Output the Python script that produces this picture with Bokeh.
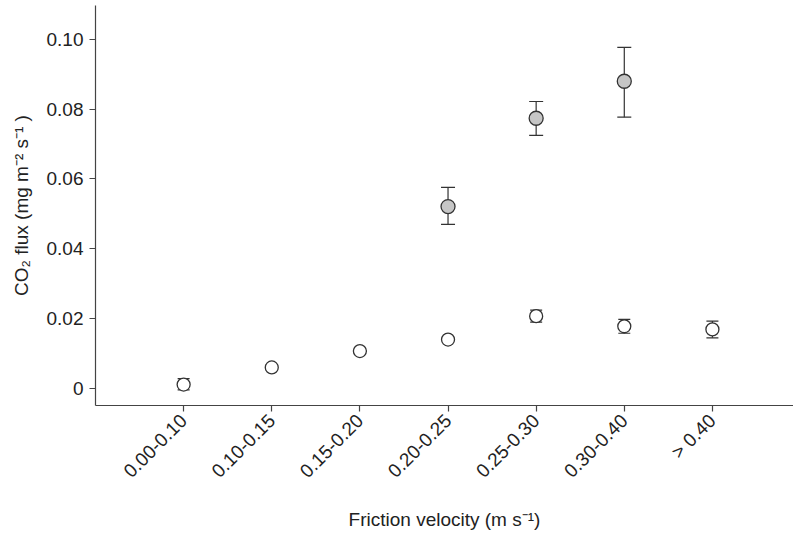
import math
from bokeh.plotting import figure
from bokeh.models import ColumnDataSource, Whisker, TeeHead, FixedTicker, Range1d
from bokeh.embed import file_html
from bokeh.resources import INLINE

categories = ["0.00-0.10", "0.10-0.15", "0.15-0.20", "0.20-0.25", "0.25-0.30", "0.30-0.40", "> 0.40"]

# open circles (all classes)
open_mean = [0.0011, 0.0060, 0.0107, 0.0140, 0.0207, 0.0178, 0.0169]
open_lo = [-0.0004, 0.0053, 0.0101, 0.0133, 0.0190, 0.0158, 0.0145]
open_hi = [0.0028, 0.0067, 0.0112, 0.0147, 0.0224, 0.0198, 0.0193]

# grey circles (classes 0.20-0.25, 0.25-0.30, 0.30-0.40)
grey_idx = [3, 4, 5]
grey_mean = [0.0521, 0.0774, 0.0880]
grey_lo = [0.0470, 0.0725, 0.0777]
grey_hi = [0.0576, 0.0822, 0.0977]

y_ticks = [0, 0.02, 0.04, 0.06, 0.08, 0.10]
y_tick_labels = ["0", "0.02", "0.04", "0.06", "0.08", "0.10"]

FONT = "Liberation Sans"
TXT = "#222222"
AX = "#444444"

p = figure(width=793, height=537, output_backend="svg", toolbar_location=None,
           x_range=Range1d(0, 7.92), y_range=Range1d(-0.0049, 0.1097),
           min_border_left=95, min_border_right=0, min_border_top=5, min_border_bottom=132)
p.outline_line_color = None
p.xgrid.visible = False
p.ygrid.visible = False

xs_open = list(range(1, len(categories) + 1))
src_open = ColumnDataSource(dict(x=xs_open, y=open_mean, lo=open_lo, hi=open_hi))
xs_grey = [i + 1 for i in grey_idx]
src_grey = ColumnDataSource(dict(x=xs_grey, y=grey_mean, lo=grey_lo, hi=grey_hi))

for src, hs in ((src_open, 12), (src_grey, 14)):
    w = Whisker(source=src, base="x", upper="hi", lower="lo", dimension="height",
                line_color="#333333", line_width=1.2,
                upper_head=TeeHead(size=hs, line_color="#333333", line_width=1.2),
                lower_head=TeeHead(size=hs, line_color="#333333", line_width=1.2),
                level="underlay")
    p.add_layout(w)

p.scatter("x", "y", source=src_open, size=13, fill_color="white", line_color="#333333", line_width=1.3)
p.scatter("x", "y", source=src_grey, size=14, fill_color="#c6c6c6", line_color="#333333", line_width=1.3)

# axes
p.xaxis.ticker = FixedTicker(ticks=xs_open)
p.xaxis.major_label_overrides = {i + 1: c for i, c in enumerate(categories)}
p.xaxis.major_label_orientation = math.pi / 4
p.yaxis.ticker = FixedTicker(ticks=y_ticks)
p.yaxis.major_label_overrides = {t: l for t, l in zip(y_ticks, y_tick_labels)}

for ax in (p.xaxis, p.yaxis):
    ax.axis_line_color = AX
    ax.axis_line_width = 1.2
    ax.major_tick_line_color = AX
    ax.major_tick_line_width = 1.2
    ax.major_tick_out = 6
    ax.major_tick_in = 0
    ax.minor_tick_line_color = None
    ax.major_label_text_font = FONT
    ax.major_label_text_font_size = "19px"
    ax.major_label_text_color = TXT
    ax.axis_label_text_font = FONT
    ax.axis_label_text_font_size = "19px"
    ax.axis_label_text_font_style = "normal"
    ax.axis_label_text_color = TXT

p.yaxis.axis_label = "CO\u2082 flux (mg m\u207b\u00b2 s\u207b\u00b9 )"
p.xaxis.axis_label = "Friction velocity (m s\u207b\u00b9)"
p.yaxis.major_label_standoff = 6
p.xaxis.major_label_standoff = 6
p.yaxis.axis_label_standoff = 12
p.xaxis.axis_label_standoff = 17

open("out.html", "w").write(file_html(p, INLINE))
